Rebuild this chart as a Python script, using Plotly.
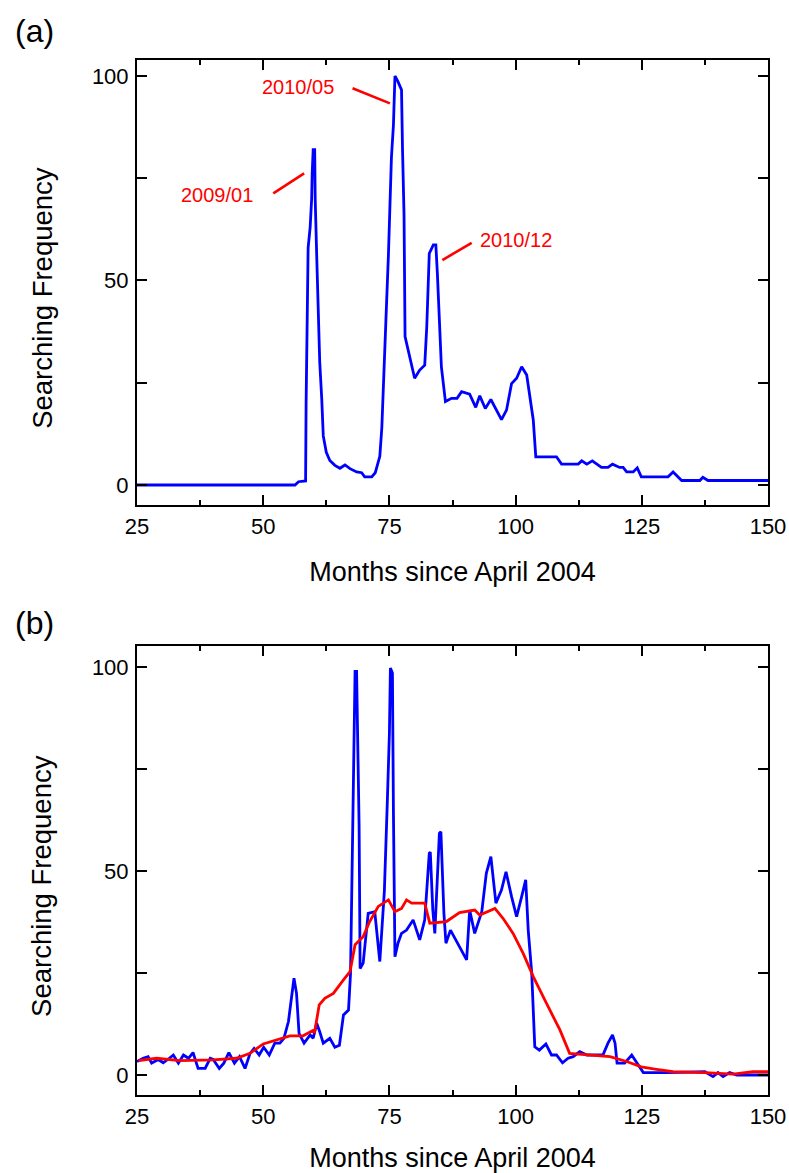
import plotly.graph_objects as go

# ---------------- data ----------------
months_a = [25, 56.3, 57.0, 57.8, 58.4, 58.5, 58.9, 59.3, 59.6, 59.7, 59.9, 60.2, 60.3, 60.6, 60.9,
            61.2, 61.6, 61.9, 62.5, 63.2, 64.2, 65.2, 66.2, 67.2, 68.5, 69.5, 70.1, 71.5, 72.2,
            72.8, 73.1, 73.5, 74.0, 74.3, 74.8, 75.1, 75.4, 75.8, 76.1, 76.7, 77.4, 77.6, 77.9,
            78.1, 79.1, 80.0, 81.0, 82.0, 82.4, 82.9, 83.7, 84.2, 84.5, 84.9, 85.3, 86.1, 87.3,
            88.4, 89.3, 90.9, 92.1, 92.9, 94.0, 95.1, 97.2, 98.2, 99.2, 100.2, 101.2, 102.2,
            102.8, 103.5, 104.0, 108.1, 109.1, 112.4, 113.1, 114.1, 115.2, 117.0, 118.3, 119.2,
            120.6, 121.3, 122.0, 123.3, 124.1, 124.9, 130.2, 131.2, 132.9, 136.5, 137.1, 138.1, 150]
freq_a = [0, 0, 0.8, 1.0, 1.0, 20, 58, 63, 70, 76, 82, 82, 70, 56, 43,
          30, 21, 12, 8, 6, 4.8, 4.1, 4.9, 4.0, 3.2, 3.0, 2.0, 2.0, 3.0,
          6, 7, 14, 28, 40, 56, 70, 80, 88, 100, 98.6, 96.6, 82, 66,
          36.3, 30.6, 26.1, 28.1, 29.3, 38.7, 56.6, 58.7, 58.7, 51.8, 38.7, 28.9, 20.4, 21.2,
          21.2, 22.8, 22.2, 19.0, 21.8, 18.7, 20.9, 16.0, 18.3, 24.8, 26.1, 28.9, 26.9,
          21.6, 15.9, 6.9, 6.9, 5.1, 5.1, 5.9, 5.1, 5.9, 4.3, 4.3, 5.1,
          4.3, 4.3, 3.2, 3.2, 4.2, 2.0, 2.0, 3.2, 1.1, 1.1, 1.9, 1.1, 1.1]

months_b = [25.0, 26.2, 27.2, 27.9, 29.2, 30.2, 31.4, 32.2, 33.2, 34.2, 35.2, 36.1, 37.1, 38.5,
            39.5, 40.1, 41.3, 42.2, 43.2, 44.3, 45.3, 46.4, 47.4, 48.2, 49.2, 50.1, 51.2, 52.3,
            53.3, 54.1, 55.0, 55.6, 56.1, 56.6, 57.1, 58.1, 59.3, 59.9, 60.6, 61.2, 61.9, 63.2,
            64.2, 65.1, 65.9, 66.9, 67.3, 67.7, 68.2, 68.5, 68.7, 69.0, 69.2, 69.8, 70.8, 72.1,
            73.1, 74.0, 74.6, 75.0, 75.2, 75.6, 75.8, 76.1, 76.7, 77.4, 78.4, 79.7, 81.0, 82.0,
            82.9, 83.1, 83.6, 84.0, 84.9, 85.2, 85.8, 86.2, 87.1, 90.3, 90.9, 91.9, 93.3, 94.2,
            95.1, 96.1, 97.2, 98.1, 99.2, 100.2, 101.2, 102.0, 102.5, 103.2, 103.8, 104.7, 106.0,
            107.1, 108.1, 109.3, 110.4, 111.4, 112.7, 114.1, 117.3, 118.3, 119.2, 119.7, 120.1,
            121.6, 123.0, 123.9, 125.3, 129.9, 137.5, 139.1, 140.1, 141.1, 142.4, 143.8, 150.0]
freq_b = [3.3, 4.1, 4.5, 2.9, 3.8, 3.0, 4.1, 4.9, 2.9, 4.9, 4.1, 5.5, 1.6, 1.6,
          4.1, 3.8, 1.6, 2.9, 5.5, 2.9, 4.5, 1.6, 5.3, 6.5, 4.9, 6.8, 4.9, 7.8,
          7.8, 9.0, 13.1, 18.4, 23.7, 20.0, 10.2, 7.8, 9.8, 9.0, 12.7, 10.6, 7.8, 9.0,
          6.8, 7.3, 14.7, 15.9, 24.9, 57.6, 98.9, 98.9, 80.5, 60.9, 26.1, 27.4, 39.6, 40.0,
          27.8, 45.0, 67.4, 83.7, 99.7, 98.5, 64.1, 29.0, 32.3, 34.7, 35.5, 38.0, 33.1, 38.0,
          54.3, 54.6, 40.4, 34.7, 59.2, 59.6, 39.6, 32.3, 35.5, 28.2, 40.4, 34.7, 40.0, 49.4,
          53.5, 42.1, 45.3, 49.8, 43.7, 38.8, 43.7, 47.8, 35.5, 24.9, 6.9, 6.1, 7.6,
          4.9, 4.9, 3.0, 4.1, 4.5, 5.7, 4.9, 4.9, 7.8, 9.8, 7.8, 2.9,
          2.9, 4.9, 3.3, 0.6, 0.6, 0.8, -0.4, 0.6, -0.4, 0.6, 0.0, 0.0]

months_b_smooth = [25.3, 28.9, 33.5, 40.1, 44.7, 47.4, 50.0, 52.7, 55.3, 57.9, 59.8, 60.2, 61.1,
                   62.2, 63.9, 65.9, 67.2, 68.2, 69.8, 71.1, 72.8, 74.8, 76.1, 77.4, 78.4, 79.4,
                   82.0, 83.0, 86.3, 88.9, 91.9, 92.9, 95.9, 97.5, 99.5, 101.5, 103.5, 106.1,
                   108.8, 110.7, 114.1, 118.7, 122.0, 124.9, 127.9, 131.2, 137.5, 143.1, 147.0, 150.0]
freq_b_smooth = [3.5, 4.1, 3.5, 3.7, 4.1, 5.3, 7.6, 8.6, 9.6, 9.6, 10.9, 10.6, 17.2,
                 18.8, 20.0, 23.3, 25.3, 31.9, 33.9, 37.6, 41.3, 42.9, 40.0, 40.8, 42.9, 42.1,
                 42.1, 37.2, 37.6, 39.8, 40.4, 39.2, 40.8, 38.4, 34.7, 29.8, 24.1, 17.6,
                 11.0, 5.3, 4.9, 4.5, 3.3, 2.0, 1.4, 0.8, 0.6, 0.2, 0.8, 0.8]

x_ticks = [25, 50, 75, 100, 125, 150]
y_ticks = [0, 25, 50, 75, 100]
y_ticktext = ["0", "", "50", "", "100"]

# callouts on panel (a): label, text position, leader line (x0, y0, x1, y1)
callout_labels = ["2009/01", "2010/05", "2010/12"]
callout_text_xy = [(40.8, 70.9), (56.9, 97.3), (100.0, 59.9)]
callout_lines = [(52.0, 71.3, 58.1, 76.2), (67.7, 97.0, 75.1, 93.3), (85.5, 55.0, 91.3, 59.2)]

FONT = "Arial, Liberation Sans, sans-serif"
BLUE = "#0000ff"
RED = "#ff0000"

fig = go.Figure()
fig.add_trace(go.Scatter(x=months_a, y=freq_a, mode="lines", line=dict(color=BLUE, width=2.8),
                         xaxis="x", yaxis="y", showlegend=False))
fig.add_trace(go.Scatter(x=months_b, y=freq_b, mode="lines", line=dict(color=BLUE, width=2.8),
                         xaxis="x2", yaxis="y2", showlegend=False))
fig.add_trace(go.Scatter(x=months_b_smooth, y=freq_b_smooth, mode="lines",
                         line=dict(color=RED, width=2.8), xaxis="x2", yaxis="y2", showlegend=False))

xcommon = dict(range=[25, 150], tickvals=x_ticks, ticks="inside", ticklen=10, tickwidth=2,
               tickcolor="black", showline=True, linecolor="black", linewidth=2, mirror="ticks",
               showgrid=False, zeroline=False, ticklabelstandoff=1, automargin=False,
               tickfont=dict(family=FONT, size=22, color="black"),
               minor=dict(dtick=12.5, tick0=25, ticks="inside", ticklen=5, tickwidth=2,
                          tickcolor="black", showgrid=False),
               title=dict(text="Months since April 2004", font=dict(family=FONT, size=27, color="black"),
                          standoff=24))
ycommon = dict(tickvals=y_ticks, ticktext=y_ticktext, ticks="inside", ticklen=10, tickwidth=2,
               tickcolor="black", showline=True, linecolor="black", linewidth=2, mirror="ticks",
               showgrid=False, zeroline=False, ticklabelstandoff=2, automargin=False,
               tickfont=dict(family=FONT, size=22, color="black"))

fig.update_layout(
    width=789, height=1173,
    margin=dict(l=137, r=21, t=60, b=78, autoexpand=False),
    paper_bgcolor="white", plot_bgcolor="white",
    xaxis=dict(domain=[0, 1], anchor="y", **xcommon),
    yaxis=dict(domain=[0.570, 1], anchor="x", range=[-4.9, 103.9], **ycommon),
    xaxis2=dict(domain=[0, 1], anchor="y2", **xcommon),
    yaxis2=dict(domain=[0, 0.4338], anchor="x2", range=[-4.9, 105.1], **ycommon),
)

annotations = []
for lab, (tx, ty) in zip(callout_labels, callout_text_xy):
    annotations.append(dict(x=tx, y=ty, xref="x", yref="y", text=lab, showarrow=False,
                            font=dict(family=FONT, size=20, color=RED)))
shapes = []
for (x0, y0, x1, y1) in callout_lines:
    shapes.append(dict(type="line", xref="x", yref="y", x0=x0, y0=y0, x1=x1, y1=y1,
                       line=dict(color=RED, width=2.6)))

# panel labels and y-axis titles
for lab, yref, shift in [("(a)", "y domain", 29), ("(b)", "y2 domain", 23)]:
    annotations.append(dict(x=-0.197, y=1.0, xref="paper", yref=yref, yshift=shift,
                            xanchor="left", yanchor="middle", text=lab, showarrow=False,
                            font=dict(family=FONT, size=32, color="black")))
for yref in ["y domain", "y2 domain"]:
    annotations.append(dict(x=-0.151, y=0.465, xref="paper", yref=yref, textangle=-90,
                            xanchor="center", yanchor="middle", text="Searching Frequency",
                            showarrow=False, font=dict(family=FONT, size=27.5, color="black")))

fig.update_layout(annotations=annotations, shapes=shapes)
fig.write_html("out.html")
